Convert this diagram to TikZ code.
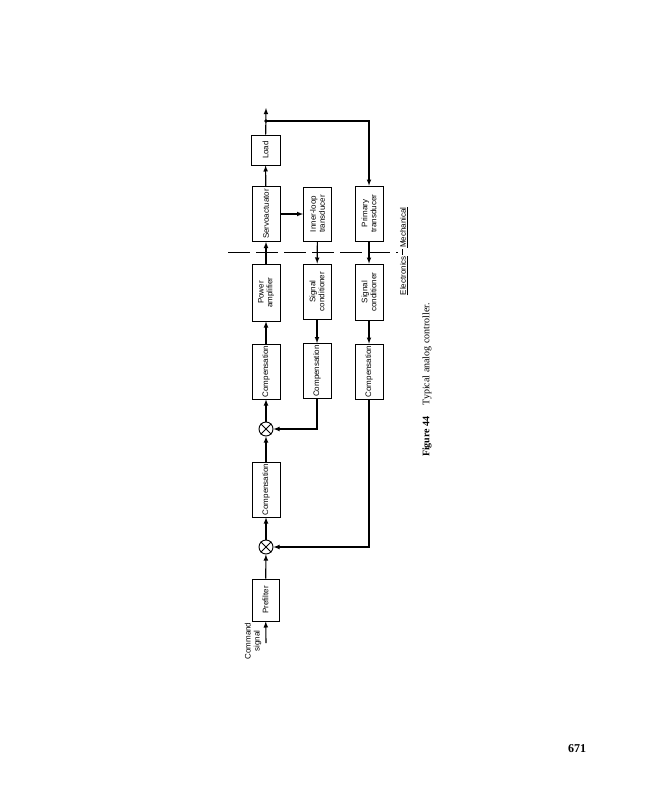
\documentclass[tikz,border=0pt]{standalone}
\usepackage{fontspec}
\setmainfont{Liberation Serif}
\setsansfont{Liberation Sans}
\tikzset{
  blk/.style={draw, line width=0.8pt, rotate=90, minimum width=55pt, minimum height=28pt,
    inner sep=1pt, align=center, font=\sffamily\fontsize{8}{8.8}\selectfont},
  sumj/.style={draw, circle, line width=0.9pt, minimum size=14pt, inner sep=0pt},
  sig/.style={line width=1.1pt},
}
\begin{document}
\begin{tikzpicture}[x=1pt,y=-1pt]
    \useasboundingbox (0,0) rectangle (647,800);
    %main chain
    \node[blk, minimum width=42pt, minimum height=27pt] (pref) at (265.5,600) {Prefilter};
    \node[sumj] (sumb) at (266,547) {};
    \node[blk] (compa) at (266,489.5) {Compensation};
    \node[sumj] (suma) at (266,429) {};
    \node[blk] (compb) at (266,371.5) {Compensation};
    \node[blk, minimum width=57pt] (pamp) at (266,292.5) {Power\\amplifier};
    \node[blk] (servo) at (266,214) {Servoactuator};
    \node[blk, minimum width=30pt, minimum height=29pt] (load) at (265.5,150) {Load};
    \foreach \s in {suma,sumb} {
        \draw[line width=0.9pt] (\s.45) -- (\s.225) (\s.135) -- (\s.-45);
    }
    %inner loop
    \node[blk, minimum width=54pt] (inner) at (317.5,214) {Inner-loop\\transducer};
    \node[blk] (condm) at (317,291.5) {Signal\\conditioner};
    \node[blk] (compm) at (317,371) {Compensation};
    %outer loop
    \node[blk] (prim) at (369,213.5) {Primary\\transducer};
    \node[blk, minimum width=56pt] (condr) at (369,292) {Signal\\conditioner};
    \node[blk] (compr) at (369,371.5) {Compensation};
    \coordinate (cmd) at (266,643);
    \coordinate (out) at (266,108);
    \coordinate (tap) at (266,121);
    \node[rotate=90, align=center, font=\sffamily\fontsize{8}{9}\selectfont] (cmdlab) at (253,641) {Command\\signal};
    %arrows
    \draw[sig,-latex] (cmd) -- (pref);
    \draw[sig,-latex] (pref) -- (sumb);
    \draw[sig,-latex] (sumb) -- (compa);
    \draw[sig,-latex] (compa) -- (suma);
    \draw[sig,-latex] (suma) -- (compb);
    \draw[sig,-latex] (compb) -- (pamp);
    \draw[sig,-latex] (pamp) -- (servo);
    \draw[sig,-latex] (servo) -- (load);
    \draw[sig,-latex] (load) -- (out);
    \draw[sig,-latex] (servo) -- (inner);
    \draw[sig,-latex] (inner) -- (condm);
    \draw[sig,-latex] (condm) -- (compm);
    \draw[sig,-latex] (compm) |- (suma);
    \draw[sig,-latex] (tap) -| (prim);
    \draw[sig,-latex] (prim) -- (condr);
    \draw[sig,-latex] (condr) -- (compr);
    \draw[sig,-latex] (compr) |- (sumb);
    \fill (tap) circle (1.8pt);
    %electronics / mechanical
    \draw[line width=0.8pt, dash pattern=on 22pt off 6pt] (228,252) -- (398,252);
    \node[rotate=90, anchor=east, inner sep=0pt, font=\sffamily\fontsize{8}{9}\selectfont] (elec) at (404,256) {\underline{Electronics}};
    \node[rotate=90, anchor=west, inner sep=0pt, font=\sffamily\fontsize{8}{9}\selectfont] (mech) at (404,248) {\underline{Mechanical}};
    \draw[line width=1pt] (402,249) -- (402,255);
    %caption
    \node[rotate=90, font=\fontsize{10}{12}\selectfont] (capt) at (427,380) {\textbf{Figure 44}\hspace{1.1em}Typical analog controller.};
    \node[font=\bfseries\fontsize{12}{14}\selectfont] (pagen) at (577,749) {671};
\end{tikzpicture}
\end{document}
